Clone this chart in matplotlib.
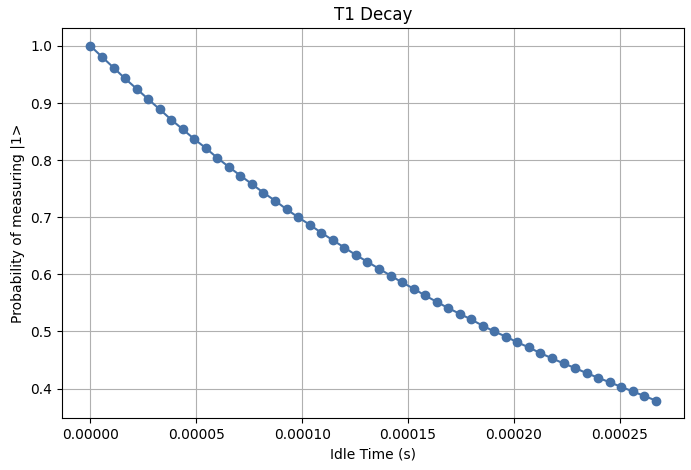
import matplotlib.pyplot as plt

# idle times in microseconds
idle_us = [0, 5.4, 10.9, 16.3, 21.8, 27.2, 32.7, 38.1, 43.6, 49.0,
           54.5, 59.9, 65.4, 70.8, 76.3, 81.7, 87.2, 92.6, 98.1, 103.5,
           109.0, 114.4, 119.9, 125.3, 130.8, 136.2, 141.7, 147.1, 152.6, 158.0,
           163.5, 168.9, 174.4, 179.8, 185.3, 190.7, 196.2, 201.6, 207.1, 212.5,
           218.0, 223.4, 228.9, 234.3, 239.8, 245.2, 250.7, 256.1, 261.6, 267.0]
prob = [1.000, 0.981, 0.962, 0.943, 0.925, 0.907, 0.889, 0.871, 0.854, 0.837,
        0.821, 0.804, 0.788, 0.773, 0.758, 0.743, 0.729, 0.714, 0.700, 0.687,
        0.673, 0.660, 0.647, 0.634, 0.622, 0.610, 0.598, 0.586, 0.575, 0.563,
        0.552, 0.541, 0.531, 0.521, 0.510, 0.500, 0.491, 0.481, 0.472, 0.462,
        0.453, 0.444, 0.436, 0.427, 0.419, 0.411, 0.403, 0.395, 0.387, 0.379]

idle_s = [t * 1e-6 for t in idle_us]

fig, ax = plt.subplots(figsize=(6.91, 4.70), dpi=100)
ax.plot(idle_s, prob, '-o', color='#4672a8', markersize=6)
ax.set_title("T1 Decay")
ax.set_xlabel("Idle Time (s)")
ax.set_ylabel("Probability of measuring |1>")
ax.set_xticks([0, 0.00005, 0.0001, 0.00015, 0.0002, 0.00025])
ax.set_xticklabels(["0.00000", "0.00005", "0.00010", "0.00015", "0.00020", "0.00025"])
ax.grid(True)
plt.subplots_adjust(left=0.09, right=0.99, top=0.94, bottom=0.11)
plt.savefig("out.png")
